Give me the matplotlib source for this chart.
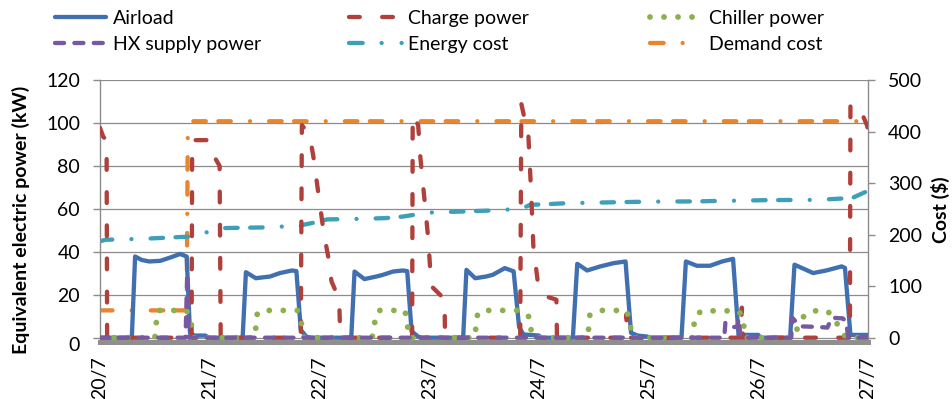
import matplotlib
matplotlib.use("Agg")
import matplotlib.pyplot as plt
from matplotlib.lines import Line2D
from matplotlib.ticker import FuncFormatter

plt.rcParams['font.family'] = ['Lato', 'DejaVu Sans']

# ---------------- data (x in days since 20/7 00:00) ----------------
day_ticks = [0, 1, 2, 3, 4, 5, 6, 7]
day_labels = ['20/7', '21/7', '22/7', '23/7', '24/7', '25/7', '26/7', '27/7']
kw_ticks = [0, 20, 40, 60, 80, 100, 120]
cost_ticks = [0, 100, 200, 300, 400, 500]

airload_t = [0.00, 0.29, 0.32, 0.38, 0.45, 0.55, 0.65, 0.73, 0.79, 0.82, 0.86, 0.96, 0.99,
             1.30, 1.33, 1.42, 1.55, 1.64, 1.75, 1.79, 1.83, 1.88, 1.92,
             2.29, 2.32, 2.41, 2.52, 2.58, 2.67, 2.76, 2.80, 2.84, 2.90, 2.93,
             3.31, 3.34, 3.42, 3.52, 3.58, 3.69, 3.77, 3.82, 3.86, 4.00, 4.02,
             4.31, 4.35, 4.44, 4.56, 4.68, 4.79, 4.84, 4.90, 4.99, 5.01,
             5.30, 5.34, 5.44, 5.56, 5.67, 5.77, 5.82, 6.00, 6.02,
             6.29, 6.33, 6.50, 6.62, 6.76, 6.79, 6.84, 7.00]
airload_kw = [0, 0, 37.8, 36.2, 35.5, 35.8, 37.5, 39.0, 37.8, 2.3, 1.0, 1.0, 0,
              0, 30.5, 27.7, 28.5, 30.1, 31.3, 31.0, 3.7, 0.5, 0,
              0, 30.8, 27.3, 28.5, 29.3, 30.8, 31.3, 31.0, 3.0, 0.5, 0,
              0, 31.6, 27.7, 28.5, 29.3, 32.4, 30.9, 4.9, 1.5, 1.0, 0,
              0, 34.4, 31.3, 33.2, 34.7, 35.5, 2.3, 1.0, 0.5, 0,
              0, 35.5, 33.5, 33.5, 35.5, 36.7, 1.3, 1.3, 0,
              0, 34.0, 30.1, 31.3, 33.2, 32.5, 1.3, 1.3]

charge_t = [0.000, 0.030, 0.060, 0.065,
            0.835, 0.840, 0.980, 1.000, 1.090, 1.100,
            1.830, 1.840, 1.910, 1.945, 1.990, 2.040, 2.080, 2.110, 2.180, 2.190,
            2.845, 2.850, 2.900, 2.920, 2.960, 2.990, 3.020, 3.140, 3.145,
            3.830, 3.840, 3.905, 3.920, 3.935, 3.950, 3.995, 4.060, 4.160, 4.165,
            4.795, 4.800, 4.810,
            5.840, 5.850, 5.860,
            6.835, 6.840, 6.940, 6.990, 7.000]
charge_kw = [97.7, 93.5, 92.0, 0,
             0, 92.0, 92.0, 88.0, 80.0, 0,
             0, 99.0, 94.4, 84.3, 67.3, 48.7, 37.8, 26.2, 18.0, 0,
             0, 103.7, 99.0, 84.0, 63.0, 47.0, 24.0, 18.0, 0,
             0, 109.0, 93.6, 78.0, 61.0, 42.5, 24.0, 19.3, 17.7, 0,
             0, 11.0, 0,
             0, 14.0, 0,
             0, 109.0, 105.0, 99.0, 97.0]

chiller_t = [0.00, 0.50, 0.51, 0.53, 0.79, 0.83, 0.85,
             1.41, 1.42, 1.43, 1.46, 1.80, 1.83, 1.845, 1.86,
             2.48, 2.50, 2.51, 2.55, 2.78, 2.80, 2.82,
             3.41, 3.43, 3.44, 3.47, 3.84, 3.92, 3.93, 3.96,
             4.44, 4.455, 4.465, 4.55, 4.80, 4.83, 4.85,
             5.40, 5.41, 5.42, 5.48, 5.82, 5.86, 5.88,
             6.33, 6.35, 6.42, 6.50, 6.63, 6.68, 6.75, 6.80, 7.00]
chiller_kw = [0, 0, 6.0, 12.7, 12.7, 7.0, 0,
              0, 4.6, 10.7, 12.7, 12.7, 9.3, 2.3, 0,
              0, 4.6, 10.7, 12.7, 12.7, 6.5, 0,
              0, 5.5, 10.5, 12.7, 12.7, 9.3, 3.0, 0,
              0, 4.6, 10.7, 12.7, 12.7, 7.0, 0,
              0, 3.5, 9.5, 12.5, 12.5, 9.3, 0,
              0, 3.7, 10.5, 12.5, 12.5, 9.5, 4.0, 0, 0]

hx_t = [0.00, 0.78, 0.795, 0.81,
        5.69, 5.70, 5.76, 5.81, 5.82, 5.84,
        6.30, 6.31, 6.38, 6.55, 6.63, 6.67, 6.77, 6.80, 6.82, 7.00]
hx_kw = [0, 0, 30.0, 0,
         0, 7.0, 5.0, 5.0, 9.0, 0,
         0, 9.3, 5.3, 5.0, 4.7, 9.3, 9.0, 7.6, 0, 0]

energy_t = [0.00, 0.05, 0.40, 0.80, 0.84, 0.98, 1.10, 1.50, 1.67, 1.83, 1.84, 2.00, 2.07,
            2.37, 2.60, 2.76, 2.85, 2.92, 3.07, 3.30, 3.55, 3.77, 3.84, 3.92, 4.07, 4.25,
            4.50, 4.75, 5.00, 5.45, 5.65, 5.85, 6.10, 6.53, 6.78, 6.86, 7.00]
energy_usd = [187, 190, 192, 196, 197, 205, 212.6, 214, 215.7, 216.5, 218.5, 225.4, 229.5,
              230.6, 232, 235, 238, 241.6, 243.5, 244.8, 246.7, 249.3, 250, 257.8, 259, 261,
              262, 263, 264, 264.5, 265.5, 266, 267, 267.4, 270.2, 271.5, 285]

demand_t = [0.00, 0.79, 0.80, 0.835, 7.00]
demand_usd = [53, 53, 397, 420, 420]

# ---------------- styling ----------------
C_BLUE = '#4170B0'
C_RED = '#AF403C'
C_GREEN = '#8DB04E'
C_PURPLE = '#7659A0'
C_TEAL = '#3E9FB8'
C_ORANGE = '#E8862F'
C_GRID = '#8c8c8c'
LW = 3.1
LS_RED = (0, (2.5, 5.2))
LS_PURPLE = (0, (2.1, 2.4))
LS_GREEN = (0, (0.001, 2.4))
LS_COST = (5.8, (2.9, 2.9, 2.9, 4.45, 0.002, 4.45))
LS_COST_LEG = (0, (3.18, 4.4, 0.002, 4.64, 0.002, 10))
ROUND = dict(dash_capstyle='round', solid_capstyle='round',
             dash_joinstyle='round', solid_joinstyle='round')
FS = 14

W, H = 952, 399
fig = plt.figure(figsize=(W / 100, H / 100), dpi=100)
X0, X1, YT, YB = 100, 868, 80, 341.5
Y0 = 337.7
ax = fig.add_axes([X0 / W, 1 - YB / H, (X1 - X0) / W, (YB - YT) / H])
ax2 = ax.twinx()
ax.set_zorder(ax2.get_zorder() + 1)
ax.patch.set_visible(False)

kw_min = -(YB - Y0) / ((Y0 - YT) / 120.0)
ax.set_xlim(0, 7)
ax.set_ylim(kw_min, 120)
ax2.set_ylim(kw_min * 500 / 120.0, 500)

# gridlines (aligned with the kW ticks), behind everything
for v in kw_ticks:
    ax2.axhline(v * 500 / 120.0, color=C_GRID, lw=0.9, zorder=0.5)

# secondary-axis series
ax2.plot(demand_t, demand_usd, color=C_ORANGE, lw=LW, linestyle=LS_COST, zorder=3, **ROUND)
ax2.plot(energy_t, energy_usd, color=C_TEAL, lw=LW, linestyle=LS_COST, zorder=3, **ROUND)

# primary-axis series
ax.plot(airload_t, airload_kw, color=C_BLUE, lw=LW, linestyle='-', zorder=3, **ROUND)
ax.plot(charge_t, charge_kw, color=C_RED, lw=LW, linestyle=LS_RED, zorder=3, **ROUND)
ax.plot(chiller_t, chiller_kw, color=C_GREEN, lw=4.2, linestyle=LS_GREEN, zorder=3, **ROUND)
ax.plot(hx_t, hx_kw, color=C_PURPLE, lw=LW, linestyle=LS_PURPLE, zorder=3, **ROUND)

# spines
for s in ['top', 'right']:
    ax.spines[s].set_visible(False)
for s in ['top', 'left', 'bottom']:
    ax2.spines[s].set_visible(False)
ax.spines['left'].set_color(C_GRID)
ax.spines['left'].set_linewidth(1.0)
ax.spines['bottom'].set_color('#8f8f8f')
ax.spines['bottom'].set_linewidth(3.6)
ax2.spines['right'].set_color(C_GRID)
ax2.spines['right'].set_linewidth(1.0)

# ticks
ax.set_yticks(kw_ticks)
ax.yaxis.set_major_formatter(FuncFormatter(lambda v, p: '' if v == 0 else f'{v:g}'))
ax.tick_params(axis='y', length=5, width=1, color=C_GRID, pad=9.4, labelsize=FS)
ax.annotate('0', xy=(0, 0), xycoords=ax.get_yaxis_transform(),
            xytext=(-20 * 0.72, -8 * 0.72), textcoords='offset points',
            ha='right', va='center', fontsize=FS)
ax2.set_yticks(cost_ticks)
ax2.tick_params(axis='y', length=5, width=1, color=C_GRID, pad=9.4, labelsize=FS)
ax.set_xticks(day_ticks)
ax.set_xticklabels(day_labels, rotation=90)
ax.tick_params(axis='x', length=0, pad=10.4, labelsize=FS)

# axis titles
ax.set_ylabel('Equivalent electric power (kW)', fontsize=FS, fontweight='bold')
ax.yaxis.label.set_verticalalignment('center')
ax.yaxis.set_label_coords((21 - X0) / (X1 - X0), (YB - 219.5) / (YB - YT))
ax2.set_ylabel('Cost ($)', fontsize=FS, fontweight='bold')
ax2.yaxis.label.set_verticalalignment('center')
ax2.yaxis.set_label_coords((940 - X0) / (X1 - X0), (YB - 209.5) / (YB - YT))

# legend (drawn in figure pixel positions)
def fx(x):
    return x / W

def fy(y):
    return 1 - y / H

legend_rows = [
    (52.7, 108.3, 17.3, 113, 24, 'Airload', dict(color=C_BLUE, lw=LW, linestyle='-')),
    (52.7, 108.3, 43.3, 113, 50, 'HX supply power', dict(color=C_PURPLE, lw=LW, linestyle=LS_PURPLE)),
    (346.7, 398.3, 17.3, 408, 24, 'Charge power', dict(color=C_RED, lw=LW, linestyle=LS_RED)),
    (346.7, 404.0, 43.3, 408, 50, 'Energy cost', dict(color=C_TEAL, lw=LW, linestyle=LS_COST_LEG)),
    (647.5, 703.0, 17.3, 708.6, 24, 'Chiller power', dict(color=C_GREEN, lw=4.2, linestyle=LS_GREEN)),
    (647.5, 704.0, 43.3, 708.6, 50, 'Demand cost', dict(color=C_ORANGE, lw=LW, linestyle=LS_COST_LEG)),
]
for x0, x1, yh, xt, yb, label, kw in legend_rows:
    fig.add_artist(Line2D([fx(x0 + 2.15), fx(x1 - 2.15)], [fy(yh), fy(yh)],
                          transform=fig.transFigure, **kw, **ROUND))
    fig.text(fx(xt), fy(yb), label, fontsize=FS, ha='left', va='baseline')

fig.savefig('out.png', dpi=100)
